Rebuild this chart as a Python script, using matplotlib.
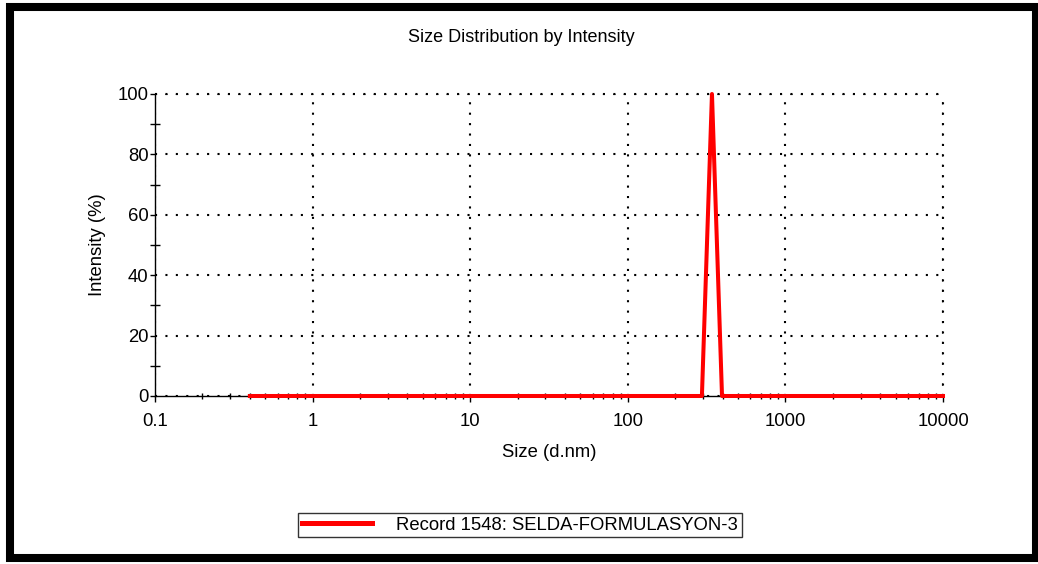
import matplotlib
matplotlib.use('Agg')
import matplotlib.pyplot as plt
from matplotlib.patches import Rectangle
from matplotlib.ticker import FixedLocator, NullFormatter

plt.rcParams['font.family'] = ['Liberation Sans', 'DejaVu Sans']

# size classes (d.nm) and intensity (%) for the record
sizes = [0.4, 295.3, 342.0, 396.1, 10000]
intensity = [0, 0, 100, 0, 0]

record_label = 'Record 1548: SELDA-FORMULASYON-3'
x_ticks = [0.1, 1, 10, 100, 1000, 10000]
x_tick_labels = ['0.1', '1', '10', '100', '1000', '10000']
y_ticks = [0, 20, 40, 60, 80, 100]
y_minor = [10, 30, 50, 70, 90]

fig = plt.figure(figsize=(10.38, 5.64), dpi=100)
ax = fig.add_axes([155 / 1038, 1 - 396 / 564, (943 - 155) / 1038, (396 - 94) / 564])

line, = ax.plot(sizes, intensity, color='#ff0000', lw=2.9, label=record_label,
                zorder=3, clip_on=False)

ax.set_xscale('log')
ax.set_xlim(0.1, 10000)
ax.set_ylim(0, 100)

ax.set_xticks(x_ticks)
ax.set_xticklabels(x_tick_labels)
minors = [m * 10.0 ** e for e in range(-1, 4) for m in range(2, 10)]
ax.xaxis.set_minor_locator(FixedLocator(minors))
ax.xaxis.set_minor_formatter(NullFormatter())
ax.set_yticks(y_ticks)
ax.yaxis.set_minor_locator(FixedLocator(y_minor))

ax.tick_params(axis='x', which='major', direction='out', length=4.3, width=1,
               pad=8, labelsize=13.3)
ax.tick_params(axis='x', which='minor', direction='inout', length=4.3, width=1)
ax.tick_params(axis='y', which='major', direction='out', length=3.6, width=1,
               pad=1, labelsize=13.3)
ax.tick_params(axis='y', which='minor', direction='inout', length=7.5, width=1)

for side in ['top', 'right']:
    ax.spines[side].set_visible(False)
for side in ['left', 'bottom']:
    ax.spines[side].set_linewidth(1)
    ax.spines[side].set_zorder(2)

# dotted grid, also along the top and right edges
ax.grid(True, which='major', color='black', linestyle=(0, (1, 4)), lw=1.5, zorder=1)
ax.axhline(100, color='black', linestyle=(0, (1, 4)), lw=1.5, zorder=1, clip_on=False)
ax.axvline(10000, color='black', linestyle=(0, (1, 4)), lw=1.5, zorder=1, clip_on=False)
ax.set_axisbelow(True)

fig.text(521 / 1038, 1 - 37 / 564, 'Size Distribution by Intensity', fontsize=13,
         ha='center', va='center')
ax.set_xlabel('Size (d.nm)', fontsize=13.3, labelpad=10)
ax.set_ylabel('Intensity (%)', fontsize=13.3, labelpad=8.5)

leg = fig.legend(handles=[line], loc='center', bbox_to_anchor=(520 / 1038, 1 - 525 / 564),
                 fontsize=13.3, frameon=True, fancybox=False, handlelength=3.8,
                 handletextpad=1.3, borderpad=0.2, borderaxespad=0)
leg.get_frame().set_edgecolor('black')
leg.get_frame().set_linewidth(1)
leg.get_lines()[0].set_linewidth(3.6)

# thick outer frame
fig.patches.append(Rectangle((10 / 1038, 6 / 564), 1025.5 / 1038, 551.5 / 564,
                             transform=fig.transFigure, fill=False,
                             edgecolor='black', lw=5.8))

fig.savefig('out.png', dpi=100)
